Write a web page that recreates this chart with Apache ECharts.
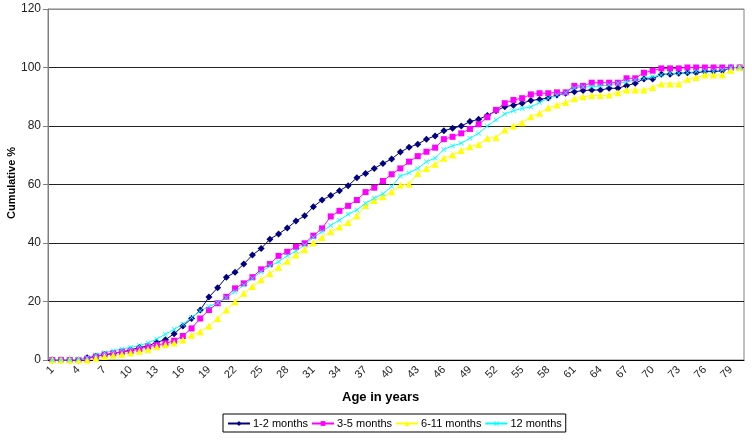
<!DOCTYPE html>
<html>
<head>
<meta charset="utf-8">
<script src="https://cdn.jsdelivr.net/npm/echarts@6/dist/echarts.min.js"></script>
<style>
html,body{margin:0;padding:0;background:#fff;}
#chart{width:752px;height:444px;}
</style>
</head>
<body>
<div id="chart"></div>
<script>
var ages = [];
for (var a = 1; a <= 80; a++) ages.push(String(a));

var seriesNames = ['1-2 months', '3-5 months', '6-11 months', '12 months'];

var m1_2 = [0,0,0,0,0.8,1.3,1.8,2.2,2.8,3.4,
  4.3,4.8,6.1,6.9,9.0,11.6,14.2,17.1,21.5,24.7,
  28.3,30.0,32.8,35.9,38.1,41.3,43.1,45.1,47.5,49.3,
  52.4,54.7,56.2,57.9,59.6,62.3,63.8,65.5,67.2,68.7,
  71.1,72.7,73.8,75.5,76.6,78.4,79.2,80.0,81.5,82.3,
  83.6,85.2,86.6,87.1,87.8,88.7,89.1,89.6,90.6,91.2,
  91.7,92.1,92.3,92.3,92.9,92.9,93.8,94.6,96.1,96.1,
  97.7,97.7,98.0,98.2,98.2,98.6,98.6,98.9,99.9,100];

var m3_5 = [0,0,0,0,0.4,1.2,1.9,2.3,2.8,3.1,
  3.7,4.6,5.1,5.7,6.6,8.2,10.8,14.2,17.1,19.4,
  21.6,24.5,26.2,28.3,31.0,32.8,35.6,37.0,38.7,39.9,
  42.5,45.0,49.1,51.0,52.7,54.7,57.4,58.9,61.2,63.5,
  65.5,67.8,69.7,71.2,72.6,75.5,76.3,77.5,79.0,80.6,
  83.0,85.5,87.8,88.9,89.5,90.8,91.2,91.2,91.5,91.5,
  93.7,93.7,94.8,94.8,94.8,94.8,96.3,96.3,98.2,98.9,
  99.7,99.7,99.7,100,100,100,100,100,100,100];

var m6_11 = [0,0,0,0,0,0.6,1.2,1.6,2.0,2.5,
  3.0,3.6,4.5,5.2,5.8,6.8,8.5,9.7,11.6,14.2,
  17.1,19.9,22.8,25.1,27.4,29.6,31.7,33.8,35.9,37.8,
  40.1,41.9,43.9,45.5,47.0,49.3,52.8,54.5,55.8,57.5,
  59.8,60.2,63.8,65.5,66.9,69.0,70.1,71.6,72.9,73.7,
  75.8,76.1,78.6,80.0,81.1,83.2,84.4,86.2,87.2,88.0,
  89.3,90.0,90.4,90.4,90.6,91.4,92.3,92.3,92.3,93.2,
  94.4,94.4,94.4,96.0,96.6,97.4,97.4,97.4,99.1,100];

var m12 = [0,0,0,0.3,0.8,1.8,2.5,3.2,3.8,4.3,
  5.0,5.8,7.2,8.8,10.5,12.2,14.5,16.8,18.3,19.6,
  21.3,23.4,25.6,27.9,30.2,32.1,33.6,35.6,37.3,39.3,
  41.9,43.9,46.0,47.8,49.8,51.3,53.6,55.3,56.8,59.3,
  62.9,64.0,65.5,67.8,69.0,72.0,73.2,74.1,75.8,77.5,
  80.0,82.1,84.1,85.2,86.0,86.5,88.0,89.5,90.6,91.4,
  92.9,93.4,93.4,93.7,94.0,94.6,95.1,95.7,96.3,96.9,
  97.4,98.0,98.0,98.2,98.6,98.9,98.9,99.2,100,100];

var yTicks = [0, 20, 40, 60, 80, 100, 120];

var FONT = "'Liberation Sans', Arial, sans-serif";
var crossPath = 'path://M0,1L1,0L5,4L9,0L10,1L6,5L10,9L9,10L5,6L1,10L0,9L4,5Z';

function mk(name, data, color, symbol, size) {
  return {
    name: name, type: 'line', data: data,
    symbol: symbol, symbolSize: size, showSymbol: true, showAllSymbol: true,
    lineStyle: { color: color, width: 1 },
    itemStyle: { color: color },
    animation: false
  };
}

var chart = echarts.init(document.getElementById('chart'), null, { renderer: 'canvas' });
chart.setOption({
  animation: false,
  backgroundColor: '#fff',
  textStyle: { fontFamily: FONT },
  grid: { left: 48, right: 8, top: 9, bottom: 84, show: true, borderColor: '#808080', borderWidth: 1 },
  xAxis: {
    type: 'category', data: ages, boundaryGap: true,
    axisLine: { lineStyle: { color: '#000', width: 1 } },
    axisTick: { interval: 0, length: 4, lineStyle: { color: '#000' } },
    axisLabel: { interval: 2, rotate: 45, color: '#222', fontSize: 11, fontFamily: FONT, margin: 8 },
    splitLine: { show: false }
  },
  yAxis: {
    type: 'value', min: yTicks[0], max: yTicks[yTicks.length - 1], interval: 20,
    axisLine: { show: true, lineStyle: { color: '#808080' } },
    axisTick: { show: true, length: 5, lineStyle: { color: '#808080' } },
    axisLabel: { color: '#222', fontSize: 12, fontFamily: FONT, margin: 7 },
    splitLine: { show: true, lineStyle: { color: ['#000', '#222', '#222', '#222', '#222', '#222', '#909090'], width: 1 } }
  },
  legend: {
    data: seriesNames, left: 223, top: 414,
    orient: 'horizontal',
    itemWidth: 22, itemHeight: 6, itemGap: 3,
    borderColor: '#000', borderWidth: 1, padding: [4, 4, 3, 4],
    textStyle: { color: '#000', fontSize: 11, fontFamily: FONT, padding: [0, 0, 0, -2] }
  },
  graphic: [
    { type: 'text', left: 342, top: 391, style: { text: 'Age in years', font: "bold 13px " + FONT, fill: '#000' } },
    { type: 'text', x: 6, y: 219, rotation: Math.PI / 2, style: { text: 'Cumulative %', font: "bold 11px " + FONT, fill: '#000' } }
  ],
  series: [
    mk(seriesNames[0], m1_2, '#000080', 'diamond', 7),
    mk(seriesNames[1], m3_5, '#FF00FF', 'rect', 6),
    mk(seriesNames[2], m6_11, '#FFFF00', 'triangle', 7),
    mk(seriesNames[3], m12, '#00FFFF', crossPath, 5)
  ]
});
</script>
</body>
</html>
